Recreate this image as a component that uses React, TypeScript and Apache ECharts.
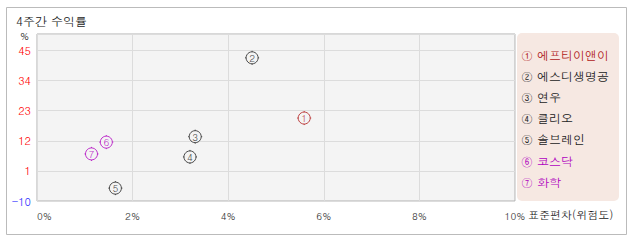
import React, { useEffect, useRef } from "react";
import * as echarts from "echarts";

const names = ["에프티이앤이", "에스디생명공", "연우", "클리오", "솔브레인", "코스닥", "화학"];
const circled = ["①", "②", "③", "④", "⑤", "⑥", "⑦"];
const riskX = [5.59, 4.5, 3.31, 3.2, 1.64, 1.45, 1.14];
const returnY = [20.3, 42.3, 13.5, 6.1, -5.3, 11.5, 7.2];
const colors = ["#b01818", "#222222", "#222222", "#222222", "#222222", "#b000c0", "#b000c0"];
const yTicks = [-10, 1, 12, 23, 34, 45];
const xTicks = [0, 2, 4, 6, 8, 10];
const title = "4주간 수익률";
const xName = "표준편차(위험도)";
const yUnit = "%";

const FONT = 'Dotum, "Noto Sans CJK KR", "DejaVu Sans", sans-serif';
const markerPath =
  "path://M7,1 A6,6 0 1,1 6.99,1 Z M7,0 L7,1 M7,13 L7,14 M0,7 L1,7 M13,7 L14,7";

export default function App() {
  const ref = useRef<HTMLDivElement>(null);
  useEffect(() => {
    if (!ref.current) return;
    const chart = echarts.init(ref.current, null, { renderer: "svg" });
    const legendItems = names.map((n, i) => ({
      type: "text",
      left: 521,
      top: 48 + i * 21.2,
      style: {
        text: `${circled[i]} ${n}`,
        fill: colors[i],
        font: `12px ${FONT}`,
      },
    }));
    chart.setOption({
      animation: false,
      grid: {
        left: 37,
        top: 34,
        width: 478,
        height: 167,
        show: true,
        backgroundColor: "#f4f4f4",
        borderColor: "#b0b0b0",
        borderWidth: 1,
      },
      xAxis: {
        type: "value",
        min: 0,
        max: 10,
        interval: 2,
        axisLine: { show: false },
        axisTick: { show: false },
        splitLine: { lineStyle: { color: "#dcdcdc" } },
        axisLabel: {
          formatter: (v: number) => (xTicks.includes(v) ? `${v}%` : ""),
          color: "#333",
          fontSize: 10,
          fontFamily: FONT,
          margin: 10,
          alignMinLabel: "left",
        },
      },
      yAxis: {
        type: "value",
        min: -10,
        max: 51,
        interval: 11,
        axisLine: { show: false },
        axisTick: { show: false },
        splitLine: { lineStyle: { color: "#dcdcdc" } },
        axisLabel: {
          formatter: (v: number) => (yTicks.includes(v) ? `${v}` : ""),
          color: (v: any) => (Number(v) < 0 ? "#3333ff" : "#ff0000"),
          fontSize: 11,
          fontFamily: FONT,
          margin: 6,
        },
      },
      graphic: [
        {
          type: "rect",
          shape: { x: 6.5, y: 7.5, width: 620, height: 227 },
          style: { fill: "none", stroke: "#bbbbbb", lineWidth: 1 },
          z: -10,
        },
        {
          type: "text",
          left: 16,
          top: 14,
          style: { text: title, fill: "#222", font: `12px ${FONT}` },
        },
        {
          type: "text",
          left: 20,
          top: 31,
          style: { text: yUnit, fill: "#222", font: `10px ${FONT}` },
        },
        {
          type: "text",
          left: 528,
          top: 209,
          style: { text: xName, fill: "#222", font: `11px ${FONT}` },
        },
        {
          type: "rect",
          shape: { x: 517, y: 33, width: 102, height: 168, r: 5 },
          style: { fill: "#f6e8e2", stroke: "none" },
        },
        ...legendItems,
      ],
      series: [
        {
          type: "scatter",
          symbol: markerPath,
          symbolSize: 14,
          data: names.map((n, i) => ({
            name: n,
            value: [riskX[i], returnY[i]],
            itemStyle: { color: "#f4f4f4", borderColor: colors[i], borderWidth: 1 },
            label: { color: colors[i] },
          })),
          label: {
            show: true,
            position: "inside",
            formatter: (p: any) => `${p.dataIndex + 1}`,
            fontSize: 10,
            fontFamily: FONT,
          },
        },
      ],
    });
    return () => chart.dispose();
  }, []);
  return (
    <div
      ref={ref}
      style={{ position: "absolute", left: 0, top: 0, width: 638, height: 242, background: "#fff" }}
    />
  );
}
